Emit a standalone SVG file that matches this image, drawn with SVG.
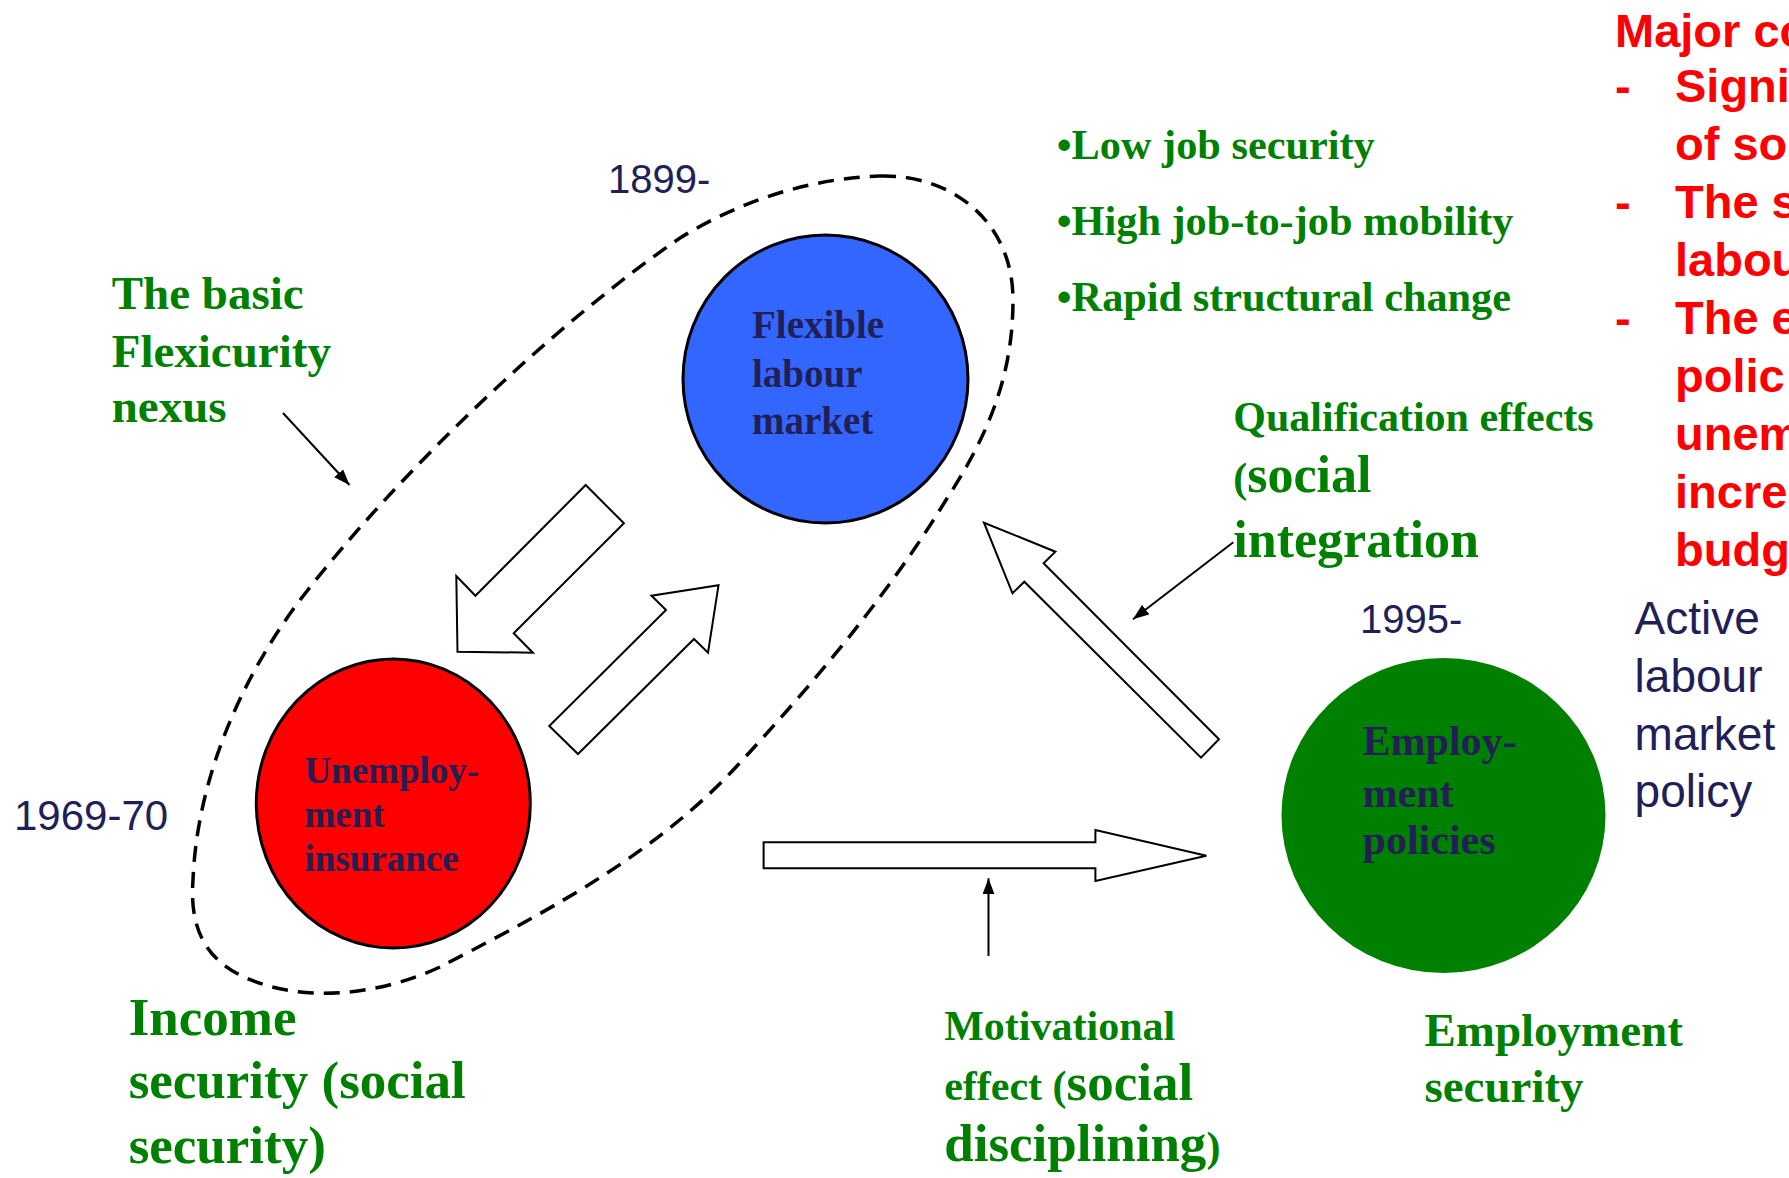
<svg xmlns="http://www.w3.org/2000/svg" width="1789" height="1178" viewBox="0 0 1789 1178">
<defs>
<style>
.serif{font-family:"Liberation Serif","Times New Roman",serif;font-weight:bold;}
.sans{font-family:"Liberation Sans",Arial,sans-serif;}
.green{fill:#008000;}
.navy{fill:#221F57;}
.red{fill:#FF0000;font-weight:bold;}
.block{fill:#FFFFFF;stroke:#000000;stroke-width:2;stroke-linejoin:miter;}
.thin{fill:none;stroke:#000000;stroke-width:2;marker-end:url(#ah);}
</style>
<marker id="ah" viewBox="0 0 16 12" refX="16" refY="6" markerWidth="16" markerHeight="12" markerUnits="userSpaceOnUse" orient="auto">
<path d="M0,0 L16,6 L0,12 Z" fill="#000000"/>
</marker>
</defs>
<rect x="0" y="0" width="1789" height="1178" fill="#FFFFFF"/>

<g id="nexus-loop">
<path d="M880,176 C950,174 1013,220 1013,300 C1013,380 985,440 946,500 C900,575 840,655 736,767 C650,860 530,920 440,967 C380,995 300,1005 240,975 C200,955 190,920 193,880 C197,780 240,680 300,600 C400,470 560,320 680,238 C750,195 820,178 880,176 Z" fill="none" stroke="#000000" stroke-width="3.5" stroke-dasharray="16 10"/>
</g>

<g id="connectors">
<polygon class="block" points="585.7,485 623.9,523.3 513.7,633.3 532.9,652.7 457.5,651.7 456.3,576 475.4,595.7"/>
<polygon class="block" points="549.3,726 578,754 694,639 708,652.7 718.5,585.3 651.5,595.7 666,610"/>
<polygon class="block" points="984,522.7 1055.4,551.7 1043.6,563.3 1219,739.3 1201,757.7 1024.3,581.7 1012.5,593.3"/>
<polygon class="block" points="763.6,842.3 1095.4,842.3 1095.4,830 1206.4,855.7 1095.4,881 1095.4,868.3 763.6,868.3"/>
<line class="thin" x1="283" y1="413" x2="349.5" y2="485"/>
<line class="thin" x1="1233.3" y1="542.3" x2="1133" y2="619.3"/>
<line class="thin" x1="988.5" y1="956" x2="988.5" y2="878.3"/>
</g>

<g id="node-flexible">
<ellipse cx="825.5" cy="379" rx="142.5" ry="144" fill="#3366FF" stroke="#000000" stroke-width="3"/>
<text class="serif navy" font-size="39"><tspan x="752" y="338">Flexible</tspan><tspan x="752" y="387">labour</tspan><tspan x="752" y="434">market</tspan></text>
</g>

<g id="node-unemployment">
<ellipse cx="393.3" cy="803.5" rx="137" ry="144.5" fill="#FF0000" stroke="#000000" stroke-width="3"/>
<text class="serif navy" font-size="37"><tspan x="304.4" y="783">Unemploy-</tspan><tspan x="304.4" y="827">ment</tspan><tspan x="304.4" y="871">insurance</tspan></text>
</g>

<g id="node-employment">
<ellipse cx="1443.5" cy="815.5" rx="162" ry="157.5" fill="#008000"/>
<text class="serif navy" font-size="42"><tspan x="1362.6" y="755">Employ-</tspan><tspan x="1362.6" y="807">ment</tspan><tspan x="1362.6" y="854">policies</tspan></text>
</g>

<g id="labels">
<text class="sans navy" font-size="40" x="608" y="193">1899-</text>
<text class="sans navy" font-size="42" x="14" y="830">1969-70</text>
<text class="sans navy" font-size="40" x="1360" y="633">1995-</text>
<text class="sans navy" font-size="46"><tspan x="1634.6" y="634">Active</tspan><tspan x="1634.6" y="692">labour</tspan><tspan x="1634.6" y="750">market</tspan><tspan x="1634.6" y="807">policy</tspan></text>

<text class="serif green" font-size="47"><tspan x="111.7" y="309.3">The basic</tspan><tspan x="111.7" y="366.7">Flexicurity</tspan><tspan x="111.7" y="421.7">nexus</tspan></text>

<text class="serif green" font-size="42.3"><tspan x="1056.8" y="159.3">•Low job security</tspan><tspan x="1056.8" y="235">•High job-to-job mobility</tspan><tspan x="1056.8" y="310.7">•Rapid structural change</tspan></text>

<text class="serif green" font-size="42"><tspan x="1233.3" y="430.7">Qualification effects</tspan><tspan x="1233.3" y="491.7" font-size="42">(<tspan font-size="52">social</tspan></tspan><tspan x="1233.3" y="556.7" font-size="52">integration</tspan></text>

<text class="serif green" font-size="53"><tspan x="128.7" y="1035">Income</tspan><tspan x="128.7" y="1098.3">security (social</tspan><tspan x="128.7" y="1163.3">security)</tspan></text>

<text class="serif green" font-size="42"><tspan x="944.2" y="1040">Motivational</tspan><tspan x="944.2" y="1100">effect (<tspan font-size="53">social</tspan></tspan><tspan x="944.2" y="1161"><tspan font-size="53">disciplining</tspan>)</tspan></text>

<text class="serif green" font-size="47"><tspan x="1424.4" y="1046">Employment</tspan><tspan x="1424.4" y="1101.7">security</tspan></text>

<text class="sans red" font-size="47"><tspan x="1615" y="46.7">Major co</tspan><tspan x="1615" y="101.7">-</tspan><tspan x="1675" y="101.7">Signi</tspan><tspan x="1675" y="159.7">of so</tspan><tspan x="1615" y="217.7">-</tspan><tspan x="1675" y="217.7">The s</tspan><tspan x="1675" y="275.7">labou</tspan><tspan x="1615" y="333.7">-</tspan><tspan x="1675" y="333.7">The e</tspan><tspan x="1675" y="391.7">polic</tspan><tspan x="1675" y="449.7">unem</tspan><tspan x="1675" y="507.7">incre</tspan><tspan x="1675" y="565.7">budg</tspan></text>
</g>
</svg>
